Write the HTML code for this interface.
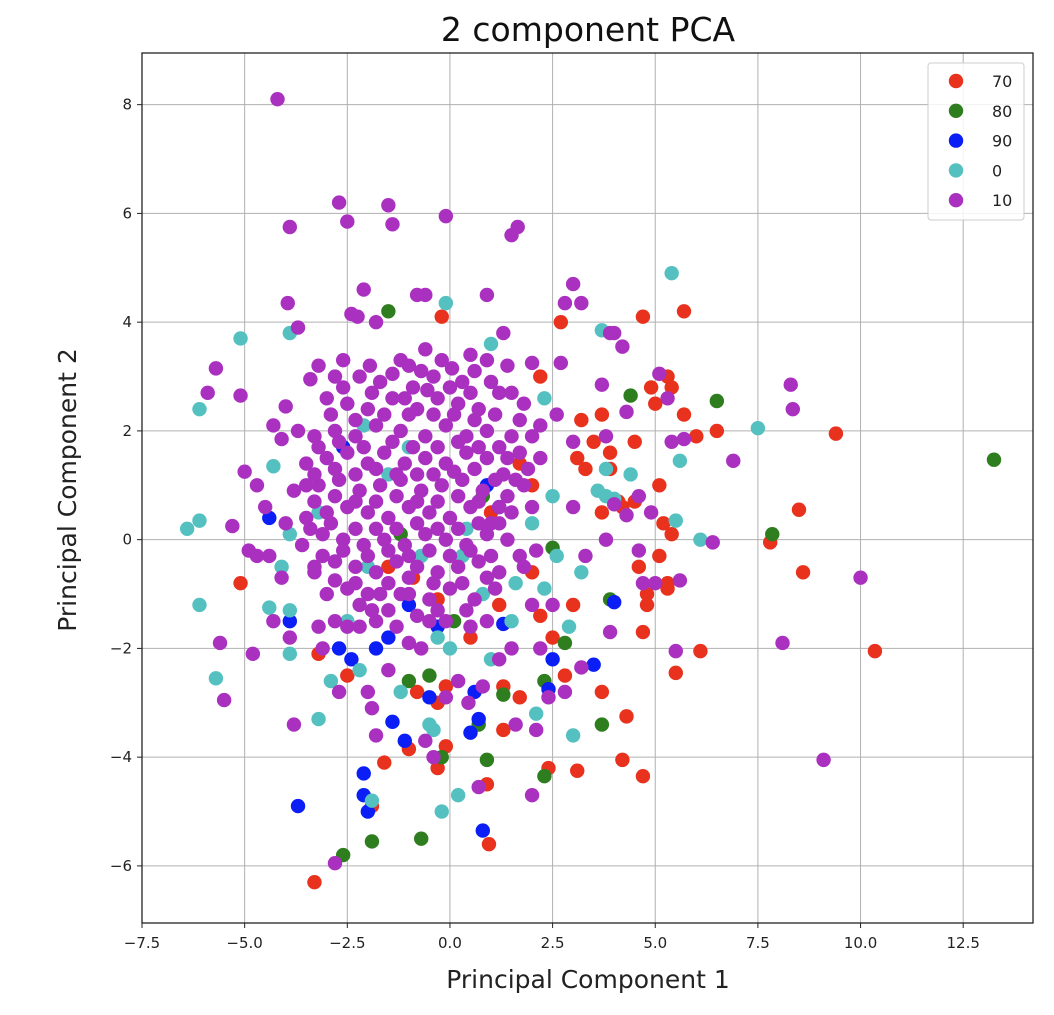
<!DOCTYPE html>
<html><head><meta charset="utf-8"><style>
body{margin:0;background:#fff;}
svg text{font-family:"DejaVu Sans","Liberation Sans",sans-serif;}
</style></head><body>
<svg id="chart" width="1054" height="1010" xmlns="http://www.w3.org/2000/svg">
<text x="588" y="41" font-size="33" text-anchor="middle" fill="#111">2 component PCA</text>
<text x="588" y="988" font-size="25" text-anchor="middle" fill="#222">Principal Component 1</text>
<text x="76" y="490" font-size="25" text-anchor="middle" fill="#222" transform="rotate(-90 76 490)">Principal Component 2</text>
<g id="grid"></g>
<g id="pts"></g>
<rect x="142" y="53" width="891" height="870" fill="none" stroke="#222" stroke-width="1.3"/>
<g id="ticks"></g>
<g>
<rect x="928" y="63" width="96" height="157" rx="3" fill="#fff" fill-opacity="0.85" stroke="#ccc"/>
<g id="leg"></g>
</g>
</svg>
<script>
const xTicks=[-7.5,-5.0,-2.5,0.0,2.5,5.0,7.5,10.0,12.5];
const yTicks=[-6,-4,-2,0,2,4,6,8];
const labels=["70","80","90","0","10"];
const colors=["#e8321e","#2e7d1e","#0a1ef5","#55c0c0","#aa30c0"];
const red=[[-0.2,4.1],[2.7,4.0],[4.7,4.1],[5.7,4.2],[5.3,3.0],[5.4,2.8],[4.9,2.8],[5.0,2.5],[5.7,2.3],[4.5,1.8],[3.9,1.6],[3.5,1.8],[3.2,2.2],[3.7,2.3],[2.2,3.0],[6.0,1.9],[6.5,2.0],[9.4,1.95],[3.9,1.3],[3.7,0.5],[4.1,0.7],[4.5,0.7],[5.1,1.0],[5.2,0.3],[5.4,0.1],[5.1,-0.3],[4.6,-0.5],[5.3,-0.8],[5.3,-0.9],[4.8,-1.0],[4.8,-1.2],[4.7,-1.7],[5.5,-2.45],[6.1,-2.05],[7.8,-0.05],[8.5,0.55],[8.6,-0.6],[10.35,-2.05],[3.7,-2.8],[4.3,-3.25],[4.2,-4.05],[4.7,-4.35],[3.1,-4.25],[2.4,-4.2],[1.3,-3.5],[1.7,-2.9],[0.9,-4.5],[0.95,-5.6],[-1.0,-3.85],[-1.6,-4.1],[-0.3,-4.2],[-0.1,-3.8],[-1.9,-4.9],[-3.3,-6.3],[-5.1,-0.8],[-3.2,-2.1],[-0.1,-2.7],[-0.3,-3.0],[-0.8,-2.8],[1.3,-2.7],[2.8,-2.5],[3.0,-1.2],[2.5,-1.8],[2.2,-1.4],[2.0,-0.6],[1.7,1.4],[2.0,1.0],[3.1,1.5],[1.0,0.5],[-0.9,-0.7],[-1.5,-0.5],[-0.3,-1.1],[0.5,-1.8],[-2.5,-2.5],[3.3,1.3],[4.2,0.6],[1.2,-1.2]];
const green=[[-1.5,4.2],[4.4,2.65],[6.5,2.55],[13.25,1.47],[7.85,0.1],[2.5,-0.15],[3.9,-1.1],[2.8,-1.9],[3.7,-3.4],[2.3,-4.35],[0.9,-4.05],[-0.2,-4.0],[-0.7,-5.5],[-1.9,-5.55],[-2.6,-5.8],[1.3,-2.85],[0.7,-3.4],[-1.0,-2.6],[-0.5,-2.5],[2.3,-2.6],[0.1,-1.5],[-1.2,0.1],[0.8,0.8]];
const blue=[[-3.7,-4.9],[-2.1,-4.3],[-2.1,-4.7],[-2.0,-5.0],[-1.4,-3.35],[-1.1,-3.7],[0.8,-5.35],[0.5,-3.55],[0.7,-3.3],[0.6,-2.8],[2.4,-2.75],[2.5,-2.2],[3.5,-2.3],[4.0,-1.15],[1.3,-1.55],[-0.5,-2.9],[-2.7,-2.0],[-2.4,-2.2],[-1.8,-2.0],[-1.5,-1.8],[-3.9,-1.5],[-2.6,1.7],[-4.4,0.4],[0.9,1.0],[1.2,0.6],[-0.3,-1.6],[-1.0,-1.2]];
const cyan=[[5.4,4.9],[-0.1,4.35],[-5.1,3.7],[-3.9,3.8],[1.0,3.6],[3.7,3.85],[2.3,2.6],[-6.1,2.4],[7.5,2.05],[5.6,1.45],[3.8,1.3],[4.4,1.2],[3.6,0.9],[3.8,0.8],[4.0,0.75],[5.5,0.35],[6.1,0.0],[-6.4,0.2],[-6.1,0.35],[-6.1,-1.2],[-5.7,-2.55],[-4.4,-1.25],[-3.9,-1.3],[-3.9,-2.1],[-3.2,-3.3],[-2.9,-2.6],[-2.2,-2.4],[-1.9,-4.8],[-1.2,-2.8],[-0.5,-3.4],[-0.4,-3.5],[-0.2,-5.0],[0.2,-4.7],[3.0,-3.6],[2.9,-1.6],[2.6,-0.3],[2.3,-0.9],[1.5,-1.5],[1.0,-2.2],[0.0,-2.0],[-0.3,-1.8],[0.4,0.2],[-2.1,2.1],[-4.3,1.35],[-4.1,-0.5],[-3.2,0.5],[-3.9,0.1],[-2.0,-0.5],[-1.0,1.7],[0.3,-0.3],[1.6,-0.8],[2.0,0.3],[2.5,0.8],[-1.5,1.2],[-0.7,-0.3],[3.2,-0.6],[0.8,-1.0],[-2.5,-1.5],[2.1,-3.2]];
const purple=[[-4.2,8.1],[-2.7,6.2],[-2.5,5.85],[-1.5,6.15],[-1.4,5.8],[-0.1,5.95],[-3.9,5.75],[1.5,5.6],[1.65,5.75],[-2.1,4.6],[-3.95,4.35],[-2.4,4.15],[-2.25,4.1],[-1.8,4.0],[-0.8,4.5],[-0.6,4.5],[0.9,4.5],[3.0,4.7],[2.8,4.35],[3.2,4.35],[4.0,3.8],[4.2,3.55],[3.9,3.8],[-3.7,3.9],[-5.7,3.15],[-5.9,2.7],[-5.1,2.65],[-4.3,2.1],[-4.0,2.45],[-4.1,1.85],[-3.2,3.2],[-3.4,2.95],[-2.8,3.0],[-2.6,3.3],[-1.4,3.05],[-1.0,3.2],[1.3,3.8],[2.0,3.25],[2.7,3.25],[3.7,2.85],[4.3,2.35],[5.1,3.05],[5.3,2.6],[5.4,1.8],[5.7,1.85],[6.9,1.45],[8.3,2.85],[8.35,2.4],[2.6,2.3],[3.0,1.8],[3.8,1.9],[4.6,0.8],[4.0,0.65],[4.3,0.45],[4.9,0.5],[3.8,0.0],[4.6,-0.2],[5.6,-0.75],[6.4,-0.05],[5.0,-0.8],[4.7,-0.8],[10.0,-0.7],[8.1,-1.9],[9.1,-4.05],[5.5,-2.05],[3.9,-1.7],[3.2,-2.35],[2.8,-2.8],[2.4,-2.9],[2.1,-3.5],[2.0,-4.7],[1.6,-3.4],[0.7,-4.55],[0.8,-2.7],[0.45,-3.0],[-0.1,-2.9],[-0.6,-3.7],[-0.4,-4.0],[-1.9,-3.1],[-1.8,-3.6],[-2.0,-2.8],[-2.7,-2.8],[-2.8,-5.95],[-3.1,-2.0],[-3.8,-3.4],[-3.9,-1.8],[-4.3,-1.5],[-4.1,-0.7],[-4.8,-2.1],[-5.6,-1.9],[-5.5,-2.95],[-5.3,0.25],[-5.0,1.25],[-4.7,1.0],[-4.5,0.6],[-4.7,-0.3],[-4.9,-0.2],[-4.4,-0.3],[-3.5,1.0],[-3.2,-1.6],[-3.3,-0.5],[-2.0,-1.0],[-1.5,-1.3],[-1.0,-1.9],[-0.5,-1.5],[-1.2,-1.0],[0.5,-1.6],[1.5,-2.0],[2.2,-2.0],[2.0,-1.2],[1.7,-0.3],[2.0,0.6],[1.3,1.2],[3.0,0.6],[2.2,1.5],[-1.5,-2.4],[-2.5,-1.6],[-0.7,-2.0],[0.2,-2.6],[1.2,-2.2],[2.5,-1.2],[3.3,-0.3],
[-2.2,3.0],[-1.7,2.9],[-0.9,2.8],[-0.4,3.0],[0.3,2.9],[0.9,3.3],[1.4,3.2],[0.5,3.4],[-0.6,3.5],[-0.2,3.3],
[-3.0,2.6],[-2.5,2.5],[-2.0,2.4],[-1.4,2.6],[-0.8,2.4],[-0.3,2.6],[0.2,2.5],[0.7,2.4],[1.2,2.7],[1.8,2.5],[2.2,2.1],
[-3.3,1.9],[-2.8,2.0],[-2.3,1.9],[-1.8,2.1],[-1.2,2.0],[-0.6,1.9],[-0.1,2.1],[0.4,1.9],[0.9,2.0],[1.5,1.9],[2.0,1.9],[-3.7,2.0],
[-3.5,1.4],[-3.0,1.5],[-2.5,1.6],[-2.0,1.4],[-1.6,1.6],[-1.1,1.4],[-0.6,1.5],[-0.1,1.4],[0.4,1.6],[0.9,1.5],[1.4,1.5],[1.9,1.3],
[-3.8,0.9],[-3.2,1.0],[-2.7,1.1],[-2.2,0.9],[-1.7,1.0],[-1.2,1.1],[-0.7,0.9],[-0.2,1.0],[0.3,1.1],[0.8,0.9],[1.4,0.8],[1.8,1.0],
[-3.5,0.4],[-3.0,0.5],[-2.5,0.6],[-2.0,0.5],[-1.5,0.4],[-1.0,0.6],[-0.5,0.5],[0.0,0.4],[0.5,0.6],[1.0,0.3],[1.5,0.5],[-4.0,0.3],
[-3.6,-0.1],[-3.1,0.1],[-2.6,0.0],[-2.1,-0.1],[-1.6,0.0],[-1.1,-0.1],[-0.6,0.1],[-0.1,0.0],[0.4,-0.1],[0.9,0.1],[1.4,0.0],[2.1,-0.2],
[-3.3,-0.6],[-2.8,-0.4],[-2.3,-0.5],[-1.8,-0.6],[-1.3,-0.4],[-0.8,-0.5],[-0.3,-0.6],[0.2,-0.5],[0.7,-0.4],[1.2,-0.6],[1.8,-0.5],
[-3.0,-1.0],[-2.5,-0.9],[-2.2,-1.2],[-1.7,-1.0],[-1.0,-1.0],[-0.5,-1.1],[0.0,-0.9],[0.6,-1.1],[1.1,-0.9],
[-2.8,-1.5],[-2.2,-1.6],[-1.3,-1.6],[-0.8,-1.4],[-0.1,-1.5],[0.9,-1.5],[-1.8,-1.5],
[-1.95,3.2],[-1.2,3.3],[-0.7,3.1],[0.05,3.15],[0.6,3.1],[-2.6,2.8],[-1.9,2.7],[-1.1,2.6],[-0.55,2.75],[0.0,2.8],[0.5,2.7],[1.0,2.9],[1.5,2.7],
[-2.9,2.3],[-2.3,2.2],[-1.6,2.3],[-1.0,2.3],[-0.4,2.3],[0.1,2.3],[0.6,2.2],[1.1,2.3],[1.7,2.2],
[-3.2,1.7],[-2.7,1.8],[-2.1,1.7],[-1.4,1.8],[-0.9,1.7],[-0.3,1.7],[0.2,1.8],[0.7,1.7],[1.2,1.7],[1.7,1.6],
[-3.3,1.2],[-2.8,1.3],[-2.3,1.2],[-1.8,1.3],[-1.3,1.2],[-0.8,1.2],[-0.4,1.2],[0.1,1.25],[0.6,1.3],[1.1,1.1],[1.6,1.1],
[-3.3,0.7],[-2.8,0.8],[-2.3,0.7],[-1.8,0.7],[-1.3,0.8],[-0.8,0.7],[-0.3,0.7],[0.2,0.8],[0.7,0.7],[1.2,0.6],
[-3.4,0.2],[-2.9,0.3],[-2.3,0.2],[-1.8,0.2],[-1.3,0.2],[-0.8,0.3],[-0.3,0.2],[0.2,0.2],[0.7,0.3],[1.2,0.3],
[-3.1,-0.3],[-2.6,-0.2],[-2.0,-0.3],[-1.5,-0.2],[-1.0,-0.3],[-0.5,-0.2],[0.0,-0.3],[0.5,-0.2],[1.0,-0.3],
[-2.8,-0.75],[-2.3,-0.8],[-1.5,-0.8],[-1.0,-0.7],[-0.4,-0.8],[0.3,-0.8],[0.9,-0.7],[-1.9,-1.3],[-0.3,-1.3],[0.4,-1.3]];
const series=[red,green,blue,cyan,purple];
const NS="http://www.w3.org/2000/svg";
const X0=142,X1=1033,Y0=923,Y1=53;
const xmin=-7.5,xmax=14.2,ymin=-7.05,ymax=8.95;
function sx(v){return X0+(v-xmin)/(xmax-xmin)*(X1-X0);}
function sy(v){return Y0-(v-ymin)/(ymax-ymin)*(Y0-Y1);}
function mk(t,a,p){const e=document.createElementNS(NS,t);for(const k in a)e.setAttribute(k,a[k]);p.appendChild(e);return e;}
const grid=document.getElementById('grid'),ticks=document.getElementById('ticks');
xTicks.forEach(v=>{const x=sx(v);
 const l=mk('line',{x1:x,x2:x,y1:Y1,y2:Y0,stroke:'#b0b0b0','stroke-width':1},grid);
 
 
 mk('line',{x1:x,x2:x,y1:Y0,y2:Y0+5,stroke:'#222'},ticks);
 const t=mk('text',{x:x,y:Y0+25,'font-size':15,'text-anchor':'middle',fill:'#222'},ticks);
 t.textContent=(v<0?'\u2212':'')+Math.abs(v).toFixed(1);
 
 });
yTicks.forEach(v=>{const y=sy(v);
 const l=mk('line',{x1:X0,x2:X1,y1:y,y2:y,stroke:'#b0b0b0','stroke-width':1},grid);
 
 
 mk('line',{x1:X0-5,x2:X0,y1:y,y2:y,stroke:'#222'},ticks);
 const t=mk('text',{x:X0-10,y:y+5,'font-size':15,'text-anchor':'end',fill:'#222'},ticks);
 t.textContent=(v<0?'\u2212':'')+Math.abs(v);
 
 });
const pts=document.getElementById('pts');
series.forEach((s,i)=>{s.forEach(p=>{
 const c=mk('circle',{cx:sx(p[0]),cy:sy(p[1]),r:7.2,fill:colors[i]},pts);
 
 });});
const leg=document.getElementById('leg');
labels.forEach((lb,i)=>{const y=81+i*29.8;
 const c=mk('circle',{cx:956,cy:y,r:7.2,fill:colors[i]},leg);
 
 
 const t=mk('text',{x:992,y:y+6,'font-size':16,fill:'#222'},leg);t.textContent=lb;
 
 });
</script>
</body></html>
